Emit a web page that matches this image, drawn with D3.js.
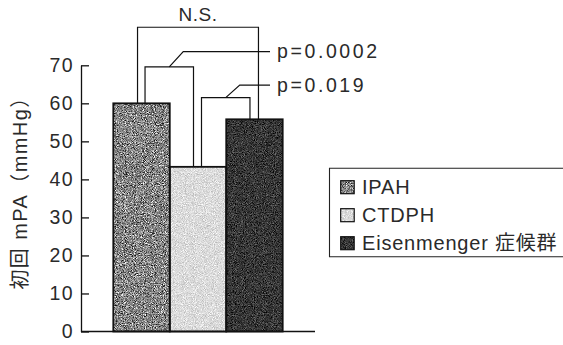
<!DOCTYPE html>
<html>
<head>
<meta charset="utf-8">
<script src="https://cdn.jsdelivr.net/npm/d3@7"></script>
<style>
  html, body { margin: 0; padding: 0; background: #fff; }
  svg { display: block; }
  text { font-family: "Liberation Sans", "Noto Sans CJK JP", sans-serif; fill: #2a2a2a; }
</style>
</head>
<body>
<svg id="chart" width="563" height="345"></svg>
<script>
// Initial mean pulmonary artery pressure by group
const categories = ["IPAH", "CTDPH", "Eisenmenger 症候群"];
const values = [60, 43.3, 55.8];
const fills = ["#888888", "#dcdcdc", "#383838"];
const yTicks = [0, 10, 20, 30, 40, 50, 60, 70];

// significance brackets: group indices, bracket height, label and leader level
const brFrom = [0, 0, 1];
const brTo = [2, 1, 2];
const brTop = [80, 69.6, 61.5];
const brLabel = ["N.S.", "p=0.0002", "p=0.019"];
const brLeader = [null, 73.6, 64.8];

const svg = d3.select("#chart");

const x = d3.scaleBand().domain(d3.range(categories.length)).range([113.3, 282.7]).padding(0);
const y = d3.scaleLinear().domain([0, 70]).range([331.5, 65.3]);

// speckled grain for bar fills
const defs = svg.append("defs");
const f = defs.append("filter").attr("id", "grain")
  .attr("x", 0).attr("y", 0).attr("width", 1).attr("height", 1)
  .attr("color-interpolation-filters", "sRGB");
f.append("feTurbulence").attr("type", "fractalNoise").attr("baseFrequency", 1.1)
  .attr("numOctaves", 2).attr("seed", 7).attr("result", "noise");
f.append("feColorMatrix").attr("in", "noise").attr("type", "matrix")
  .attr("values", "0.33 0.33 0.33 0 0  0.33 0.33 0.33 0 0  0.33 0.33 0.33 0 0  0 0 0 0 1")
  .attr("result", "gray");
const ct = f.append("feComponentTransfer").attr("in", "gray").attr("result", "contrast");
["feFuncR", "feFuncG", "feFuncB"].forEach(fn =>
  ct.append(fn).attr("type", "linear").attr("slope", 3.2).attr("intercept", -1.1));
f.append("feBlend").attr("in", "contrast").attr("in2", "SourceGraphic").attr("mode", "overlay").attr("result", "mix");
f.append("feComposite").attr("in", "mix").attr("in2", "SourceGraphic").attr("operator", "in");

// y axis with ticks pointing inward
const yAxis = d3.axisLeft(y).tickValues(yTicks).tickSizeInner(-8).tickSizeOuter(0).tickPadding(7);
const gy = svg.append("g").attr("transform", "translate(81,0)").call(yAxis);
gy.select(".domain").attr("stroke", "#111").attr("stroke-width", 1.3);
gy.selectAll(".tick line").attr("stroke", "#111").attr("stroke-width", 1.3);
gy.selectAll(".tick text").attr("font-size", 19.5).attr("letter-spacing", "1.4px")
  .attr("font-family", "Liberation Sans, sans-serif").attr("fill", "#2a2a2a");

// y label
svg.append("text")
  .attr("transform", "translate(27,188) rotate(-90)")
  .attr("text-anchor", "middle")
  .attr("font-size", 20)
  .attr("letter-spacing", "1.4px")
  .text("初回 mPA（mmHg）");

// bars
const bars = svg.append("g");
bars.selectAll("rect.fill").data(values).join("rect")
  .attr("class", "fill")
  .attr("x", (d, i) => x(i)).attr("width", x.bandwidth())
  .attr("y", d => y(d)).attr("height", d => y(0) - y(d))
  .attr("fill", (d, i) => fills[i])
  .attr("filter", "url(#grain)");
bars.selectAll("rect.edge").data(values).join("rect")
  .attr("class", "edge")
  .attr("x", (d, i) => x(i)).attr("width", x.bandwidth())
  .attr("y", d => y(d)).attr("height", d => y(0) - y(d))
  .attr("fill", "none").attr("stroke", "#111").attr("stroke-width", 1.8);

// baseline
svg.append("line").attr("x1", 81).attr("x2", 315).attr("y1", y(0)).attr("y2", y(0))
  .attr("stroke", "#111").attr("stroke-width", 1.4);

// brackets
const cx = i => x(i) + x.bandwidth() / 2;
const br = svg.append("g").attr("fill", "none").attr("stroke", "#111").attr("stroke-width", 1.2);
brFrom.forEach((a, k) => {
  const b = brTo[k];
  const xl = cx(a) + (k === 0 ? -4 : 3.5);
  const xr = cx(b) + (k === 0 ? 4 : -4.5);
  const top = y(brTop[k]);
  br.append("path").attr("d", `M${xl},${y(values[a])}V${top}H${xr}V${y(values[b])}`);
  if (brLeader[k] === null) {
    svg.append("text").attr("x", (xl + xr) / 2).attr("y", top - 6)
      .attr("text-anchor", "middle").attr("font-size", 19).attr("letter-spacing", "0.5px")
      .text(brLabel[k]);
  } else {
    const mx = (xl + xr) / 2;
    const ly = y(brLeader[k]);
    br.append("path").attr("d", `M${mx},${top}L${mx + 14},${ly}H270`);
    svg.append("text").attr("x", 277).attr("y", ly + 6.5)
      .attr("font-size", 19.5).attr("letter-spacing", "2.6px")
      .text(brLabel[k]);
  }
});

// legend
const lg = svg.append("g");
lg.append("path").attr("d", "M566,168.3H329.5V256.7H566")
  .attr("fill", "none").attr("stroke", "#222").attr("stroke-width", 1.1);
categories.forEach((c, i) => {
  const ry = 180.7 + i * 28;
  lg.append("rect").attr("x", 340.7).attr("y", ry).attr("width", 13.5).attr("height", 13)
    .attr("fill", fills[i]).attr("filter", "url(#grain)");
  lg.append("rect").attr("x", 340.7).attr("y", ry).attr("width", 13.5).attr("height", 13)
    .attr("fill", "none").attr("stroke", "#111").attr("stroke-width", 1.2);
  lg.append("text").attr("x", 362).attr("y", ry + 13)
    .attr("font-size", 20).attr("letter-spacing", "0.8px")
    .text(c);
});
</script>
</body>
</html>
